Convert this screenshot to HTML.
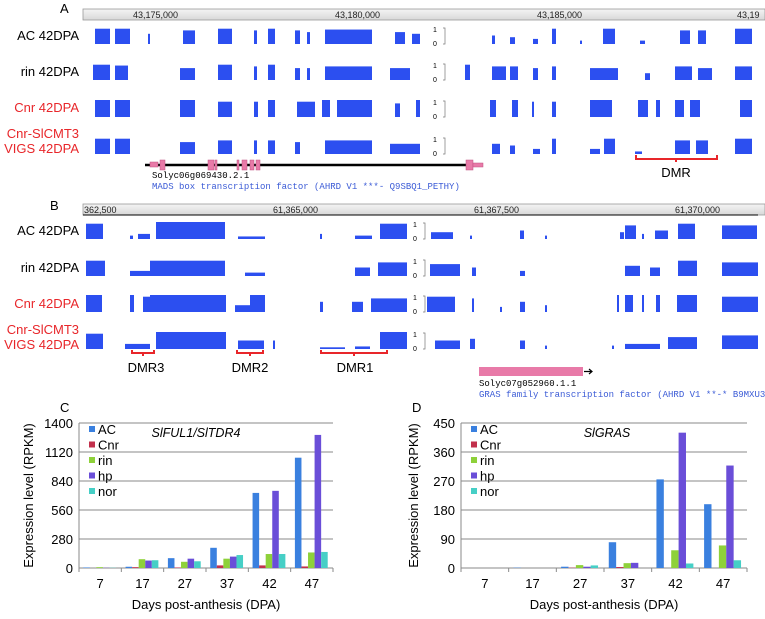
<!DOCTYPE html>
<html><head><meta charset="utf-8"><style>
html,body{margin:0;padding:0;background:#fff;}
svg{display:block;font-family:"Liberation Sans",sans-serif;}
</style></head><body>
<svg id="fig" width="765" height="619" viewBox="0 0 765 619" xmlns="http://www.w3.org/2000/svg">
<defs><linearGradient id="hdr" x1="0" y1="0" x2="0" y2="1"><stop offset="0" stop-color="#f4f4f4"/><stop offset="1" stop-color="#d8d8d8"/></linearGradient></defs>
<!-- Panel A -->
<g>
<text x="60" y="13" font-size="13">A</text>
<rect x="83" y="9" width="682" height="11" fill="url(#hdr)" stroke="#999" stroke-width="0.8"/>
<g font-size="9" fill="#222">
<text x="133" y="18">43,175,000</text><text x="335" y="18">43,180,000</text><text x="537" y="18">43,185,000</text><text x="737" y="18">43,19</text></g>
<g font-size="13" text-anchor="end">
<text x="79" y="40">AC 42DPA</text><text x="79" y="76">rin 42DPA</text>
<text x="79" y="112" fill="#e8262a">Cnr 42DPA</text>
<text x="79" y="138" fill="#e8262a">Cnr-SlCMT3</text><text x="79" y="153" fill="#e8262a">VIGS 42DPA</text></g>
<g id="tracksA"></g>
<line x1="145" y1="165" x2="476" y2="165" stroke="#000" stroke-width="2.5"/>
<g fill="#e87aa8" stroke="#c05080" stroke-width="0.5">
<rect x="150" y="162" width="8" height="5"/><rect x="160" y="160" width="5" height="10"/><rect x="208" y="160" width="6" height="10"/>
<rect x="215" y="160" width="2" height="10"/><rect x="237" y="160" width="2" height="10"/><rect x="242" y="160" width="5" height="10"/>
<rect x="250" y="160" width="4" height="10"/><rect x="256" y="160" width="4" height="10"/><rect x="466" y="160" width="7" height="10"/><rect x="473" y="163" width="10" height="4"/></g>
<text x="152" y="178" font-size="9" font-family="Liberation Mono,monospace">Solyc06g069430.2.1</text>
<text x="152" y="189" font-size="9" font-family="Liberation Mono,monospace" fill="#3b5bd6">MADS box transcription factor (AHRD V1 ***- Q9SBQ1_PETHY)</text>
<path d="M636,155 v4 h81 v-4 M676,159 v3" fill="none" stroke="#e8262a" stroke-width="2"/>
<text x="676" y="177" font-size="13" text-anchor="middle">DMR</text>
</g>
<!-- Panel B -->
<g>
<text x="50" y="210" font-size="13">B</text>
<rect x="83" y="204" width="682" height="11" fill="url(#hdr)" stroke="#999" stroke-width="0.8"/>
<line x1="83" y1="215" x2="758" y2="215" stroke="#000" stroke-width="1"/>
<g font-size="9" fill="#222">
<text x="84" y="213">362,500</text><text x="273" y="213">61,365,000</text><text x="474" y="213">61,367,500</text><text x="675" y="213">61,370,000</text></g>
<g font-size="13" text-anchor="end">
<text x="79" y="235">AC 42DPA</text><text x="79" y="272">rin 42DPA</text>
<text x="79" y="308" fill="#e8262a">Cnr 42DPA</text>
<text x="79" y="334" fill="#e8262a">Cnr-SlCMT3</text><text x="79" y="349" fill="#e8262a">VIGS 42DPA</text></g>
<g id="tracksB"></g>
<path d="M132,350 v3 h22 v-3 M143,353 v3 M237,350 v3 h26 v-3 M250,353 v3 M321,350 v3 h66 v-3 M354,353 v3" fill="none" stroke="#e8262a" stroke-width="2"/>
<g font-size="13" text-anchor="middle">
<text x="146" y="372">DMR3</text><text x="250" y="372">DMR2</text><text x="355" y="372">DMR1</text></g>
<rect x="479" y="367" width="104" height="9" fill="#e87aa8"/>
<path d="M584,371.5 h8 M589,369 l3,2.5 l-3,2.5" stroke="#000" fill="none" stroke-width="1.2"/>
<text x="479" y="386" font-size="9" font-family="Liberation Mono,monospace">Solyc07g052960.1.1</text>
<text x="479" y="397" font-size="9" font-family="Liberation Mono,monospace" fill="#3b5bd6">GRAS family transcription factor (AHRD V1 **-* B9MXU3_POPTR)</text>
</g>
<g id="chartC"></g>
<g id="chartD"></g>
</svg>
<script>
const NS="http://www.w3.org/2000/svg";
// Genome track segments: [start, end, heightFraction]
const tracksA=[
 [[95,110,.9],[115,130,.9],[148,150,.6],[183,195,.8],[218,232,.9],[254,257,.8],[268,275,.9],[295,300,.8],[307,310,.7],[325,372,.85],[395,405,.7],[412,420,.6],[492,495,.5],[510,515,.4],[533,538,.3],[552,556,.9],[580,582,.2],[603,615,.9],[640,645,.2],[680,690,.8],[698,706,.8],[735,752,.9]],
 [[93,110,.9],[115,128,.85],[180,195,.7],[218,232,.9],[254,257,.8],[268,275,.9],[295,300,.7],[307,310,.7],[325,372,.8],[390,410,.7],[465,470,.9],[492,506,.8],[510,518,.8],[533,538,.7],[552,556,.8],[590,618,.7],[645,650,.4],[675,692,.8],[698,712,.7],[735,752,.8]],
 [[95,110,1],[115,130,1],[180,195,1],[218,232,.9],[254,258,.9],[268,275,1],[297,315,.9],[322,330,1],[337,372,1],[395,400,.8],[416,420,1],[490,496,1],[512,518,1],[532,534,.9],[552,556,.9],[590,612,1],[638,648,1],[656,660,1],[675,684,1],[690,700,1],[740,752,1]],
 [[95,110,.9],[115,130,.9],[180,195,.7],[218,232,.8],[254,257,.8],[268,275,.8],[295,300,.7],[325,372,.8],[390,420,.6],[492,500,.6],[510,515,.5],[533,540,.3],[552,556,.9],[590,600,.3],[604,615,.9],[635,642,.15],[675,690,.8],[696,708,.8],[735,752,.9]]];
const tracksB=[
 [[86,103,.9],[130,133,.2],[138,150,.3],[156,225,1],[238,265,.15],[320,322,.3],[355,372,.2],[380,407,.9],[431,453,.4],[470,472,.2],[520,524,.5],[545,547,.2],[620,624,.4],[625,636,.8],[642,644,.3],[655,668,.5],[678,695,.9],[722,757,.8]],
 [[86,105,.9],[130,150,.3],[150,225,.9],[245,265,.2],[355,370,.5],[378,407,.8],[430,460,.7],[472,476,.5],[520,525,.3],[625,640,.6],[650,660,.5],[678,697,.9],[722,758,.8]],
 [[86,102,1],[130,134,1],[143,150,.9],[150,226,1],[235,250,.4],[250,265,1],[320,323,.6],[352,363,.6],[371,407,.8],[427,455,.9],[472,474,.8],[500,502,.3],[520,525,.6],[545,547,.4],[617,619,1],[625,633,1],[642,644,1],[656,660,1],[677,697,1],[722,758,.9]],
 [[86,103,.9],[125,150,.3],[156,226,1],[238,264,.5],[273,275,.5],[320,345,.1],[355,370,.15],[380,407,1],[435,460,.5],[470,475,.6],[520,525,.5],[545,547,.2],[612,614,.2],[625,660,.3],[668,697,.7],[722,758,.8]]];
const baseA=[44,80,117,154], baseB=[239,276,312,349];
function trk(gid,tracks,bases,axX){
 const g=document.getElementById(gid);
 tracks.forEach((segs,ti)=>{
  segs.forEach(s=>{
   const r=document.createElementNS(NS,'rect');
   const h=17*s[2];
   r.setAttribute('x',s[0]);r.setAttribute('width',Math.max(1.5,s[1]-s[0]));
   r.setAttribute('y',bases[ti]-h);r.setAttribute('height',h);r.setAttribute('fill','#2c4ff0');
   
   
   g.appendChild(r);
  });
  const ax=document.createElementNS(NS,'g');
  
  
  ax.innerHTML=`<path d="M${axX+10},${bases[ti]-16} h2 v16 h-2" fill="none" stroke="#777" stroke-width="0.7"/><text x="${axX}" y="${bases[ti]-12}" font-size="7">1</text><text x="${axX}" y="${bases[ti]+2}" font-size="7">0</text>`;
  g.appendChild(ax);
 });
}
trk('tracksA',tracksA,baseA,433);
trk('tracksB',tracksB,baseB,413);

// Bar charts
const days=["7","17","27","37","42","47"];
const seriesNames=["AC","Cnr","rin","hp","nor"];
const seriesColors=["#3a80df","#c2304c","#8ed13a","#6a4ed8","#46cfc6"];
const cAC=[5,12,95,195,725,1065];
const cCnr=[0,8,5,25,25,15];
const cRin=[8,85,60,90,135,150];
const cHp=[2,72,90,110,745,1285];
const cNor=[2,75,65,125,135,155];
const cTicks=[0,280,560,840,1120,1400];
const dAC=[0,1,4,80,275,198];
const dCnr=[0,0,1,3,0,0];
const dRin=[0,0,9,15,55,70];
const dHp=[0,0,4,16,420,318];
const dNor=[0,0,8,0,14,24];
const dTicks=[0,90,180,270,360,450];

function chart(gid,o){
 const g=document.getElementById(gid);
 const x0=o.x0,x1=o.x1,yT=423,yB=568,max=o.ticks[o.ticks.length-1];
 const yS=v=>yB-(v/max)*(yB-yT);
 const cw=(x1-x0)/days.length;
 const add=(tag,attrs,name,text)=>{const e=document.createElementNS(NS,tag);for(const k in attrs)e.setAttribute(k,attrs[k]);
  
  
  if(text!==undefined)e.textContent=text;g.appendChild(e);return e;};
 add('text',{x:o.letterX,y:412,'font-size':13},'panel-letter',o.letter);
 o.ticks.forEach(t=>{
  if(t>0)add('line',{x1:x0,x2:x1,y1:yS(t),y2:yS(t),stroke:'#8a8a8a','stroke-width':1},'gridline');
  add('text',{x:x0-6,y:yS(t)+5,'font-size':13,'text-anchor':'end'},'y-tick-label',String(t));
 });
 add('line',{x1:x0,x2:x0,y1:yT,y2:yB,stroke:'#8a8a8a'},'y-axis-line');
 add('line',{x1:x0,x2:x1,y1:yB,y2:yB,stroke:'#8a8a8a'},'x-axis-line');
 const bw=cw*0.155, pad=cw*0.1;
 days.forEach((d,i)=>{
  add('line',{x1:x0+cw*i,x2:x0+cw*i,y1:yB,y2:yB+4,stroke:'#8a8a8a'},'x-tick');
  add('text',{x:x0+cw*(i+0.5),y:yB+20,'font-size':13,'text-anchor':'middle'},'x-tick-label',d);
  o.series.forEach((s,j)=>{
   const v=s[i];
   add('rect',{x:x0+cw*i+pad+j*bw,y:yS(v),width:bw,height:yB-yS(v),fill:seriesColors[j]},'bar-'+seriesNames[j].toLowerCase()+'-'+d);
  });
 });
 add('line',{x1:x1,x2:x1,y1:yB,y2:yB+4,stroke:'#8a8a8a'},'x-tick');
 seriesNames.forEach((n,j)=>{
  add('rect',{x:x0+10,y:yT+3+j*15.5,width:6,height:6,fill:seriesColors[j]},'legend-swatch-'+n.toLowerCase());
  add('text',{x:x0+19,y:yT+11+j*15.5,'font-size':13},'legend-entry-'+n.toLowerCase(),n);
 });
 add('text',{x:o.titleX,y:437,'font-size':12.5,'font-style':'italic','text-anchor':'middle'},'chart-title',o.title);
 add('text',{x:(x0+x1)/2,y:609,'font-size':13,'text-anchor':'middle'},'x-axis-title','Days post-anthesis (DPA)');
 add('text',{x:0,y:0,'font-size':13,'text-anchor':'middle',transform:`translate(${o.yTitleX},${(yT+yB)/2}) rotate(-90)`},'y-axis-title','Expression level (RPKM)');
}
chart('chartC',{x0:79,x1:333,ticks:cTicks,series:[cAC,cCnr,cRin,cHp,cNor],letter:'C',letterX:60,title:'SlFUL1/SlTDR4',titleX:196,yTitleX:33});
chart('chartD',{x0:461,x1:747,ticks:dTicks,series:[dAC,dCnr,dRin,dHp,dNor],letter:'D',letterX:412,title:'SlGRAS',titleX:607,yTitleX:418});
</script>
</body></html>
